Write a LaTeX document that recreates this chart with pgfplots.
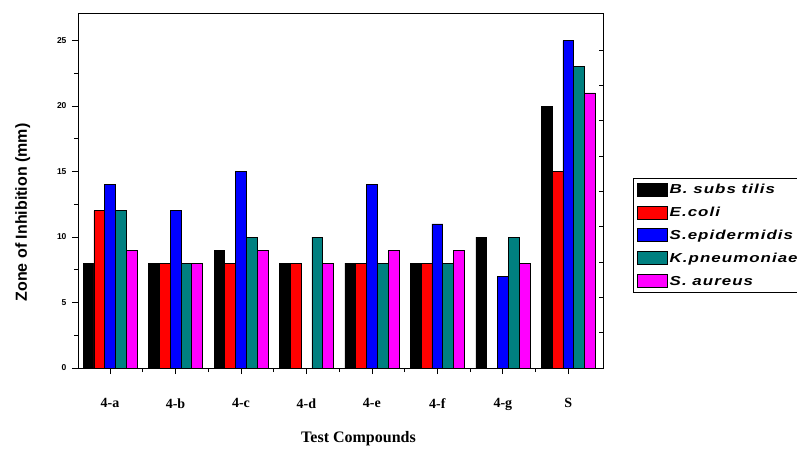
\documentclass[border=0pt]{standalone}
\usepackage{fontspec}
\setmainfont{Liberation Serif}
\setsansfont{Liberation Sans}
\newfontfamily\legfont[FakeStretch=1.3, LetterSpace=8]{Liberation Sans}
\usepackage{pgfplots}
\pgfplotsset{compat=1.18}
\definecolor{cteal}{RGB}{0,128,128}
\definecolor{cmag}{RGB}{255,0,255}
\begin{document}
\begin{tikzpicture}
\begin{axis}[
  at={(0pt,0pt)}, anchor=south west,
  width=525pt, height=355pt, scale only axis,
  ybar=0pt, bar width=10.8pt,
  xmin=-0.49, xmax=7.53, ymin=0, ymax=27.1,
  xtick={0,...,7}, xticklabels={4-a,4-b,4-c,4-d,4-e,4-f,4-g,S},
  minor xtick={-0.5,0.5,1.5,2.5,3.5,4.5,5.5,6.5},
  ytick={0,5,10,15,20,25}, minor ytick={2.5,7.5,12.5,17.5,22.5},
  tick align=outside, tick pos=left,
  major tick length=6pt, minor tick length=4pt,
  tick style={black, line width=0.8pt},
  axis line style={line width=0.8pt},
  xticklabel style={font=\fontsize{14}{14}\selectfont\bfseries, yshift=-21pt},
  yticklabel style={font=\sffamily\bfseries\fontsize{8.5}{8.5}\selectfont, xshift=-2pt},
  /pgf/number format/assume math mode=true,
  xlabel={\fontsize{16}{16}\selectfont\bfseries Test Compounds},
  xlabel style={yshift=-14pt, xshift=18pt},
  ylabel={\sffamily\bfseries\fontsize{16}{16}\selectfont Zone of Inhibition (mm)},
  ylabel style={yshift=20pt, xshift=-22pt},
  every axis plot/.append style={draw=black, line width=0.7pt},
  legend style={at={(1.057,0.535)}, anchor=north west, draw=black, line width=0.6pt,
    font=\legfont\bfseries\itshape\fontsize{13}{13}\selectfont, row sep=8pt,
    inner sep=4pt},
  legend cell align=left,
  legend image code/.code={\draw[#1, draw=black, line width=0.5pt] (0pt,-6pt) rectangle (30pt,7pt);},
]
\addplot[fill=black] coordinates {(0,8) (1,8) (2,9) (3,8) (4,8) (5,8) (6,10) (7,20)};
\addplot[fill=red] coordinates {(0,12) (1,8) (2,8) (3,8) (4,8) (5,8) (7,15)};
\addplot[fill=blue] coordinates {(0,14) (1,12) (2,15) (4,14) (5,11) (6,7) (7,25)};
\addplot[fill=cteal] coordinates {(0,12) (1,8) (2,10) (3,10) (4,8) (5,8) (6,10) (7,23)};
\addplot[fill=cmag] coordinates {(0,9) (1,8) (2,9) (3,8) (4,9) (5,9) (6,8) (7,21)};
\legend{B. subs tilis, E.coli, S.epidermidis, K.pneumoniae, S. aureus}
\end{axis}
\begin{axis}[
  at={(0pt,0pt)}, anchor=south west,
  width=525pt, height=355pt, scale only axis,
  xmin=0, xmax=1, ymin=0, ymax=10.05,
  axis y line*=right, axis x line=none,
  ytick={0,...,9}, yticklabels={},
  tick align=inside, major tick length=4pt,
  tick style={black, line width=0.8pt},
  axis line style={line width=0.8pt},
]
\addplot[draw=none] coordinates {(0,0)};
\end{axis}
\draw[line width=0.8pt] (0pt,355pt) -- (525pt,355pt);
\pgfresetboundingbox
\path (-78pt,-80pt) rectangle (719pt,368pt);
\end{tikzpicture}
\end{document}
